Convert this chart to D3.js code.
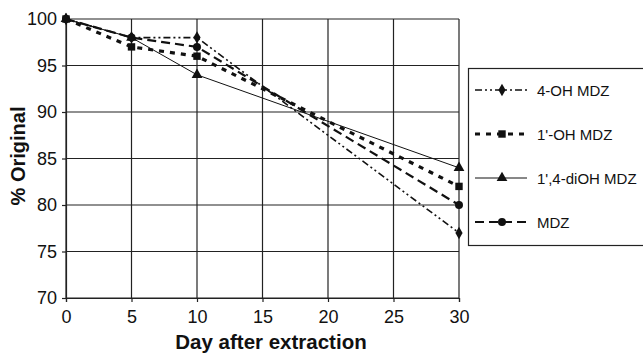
<!DOCTYPE html>
<html><head><meta charset="utf-8">
<script src="https://cdn.jsdelivr.net/npm/d3@7"></script>
<style>body{margin:0;background:#fff}svg{display:block}text{font-family:"Liberation Sans",Arial,sans-serif;fill:#111}</style>
</head><body>
<svg id="c" width="643" height="354"></svg>
<script>
const days = [0, 5, 10, 30];
const seriesNames = ["4-OH MDZ", "1'-OH MDZ", "1',4-diOH MDZ", "MDZ"];
const oh4 = [100, 98, 98, 77];
const oh1 = [100, 97, 96, 82];
const diOH = [100, 98, 94, 84];
const mdz = [100, 98, 97, 80];
const xTicks = [0, 5, 10, 15, 20, 25, 30];
const yTicks = [70, 75, 80, 85, 90, 95, 100];

const series = [
  {name: seriesNames[0], values: oh4, dash: "7,3,2,3,2,3", w: 1.6, sym: d3.symbolDiamond, size: 45},
  {name: seriesNames[1], values: oh1, dash: "5,6", w: 3.2, sym: d3.symbolSquare, size: 55},
  {name: seriesNames[2], values: diOH, dash: null, w: 1, sym: d3.symbolTriangle, size: 50},
  {name: seriesNames[3], values: mdz, dash: "9,5", w: 2.2, sym: d3.symbolCircle, size: 50}
];

const svg = d3.select("#c");
const x = d3.scaleLinear().domain([0, 30]).range([66, 459]);
const y = d3.scaleLinear().domain([70, 100]).range([298, 19]);

// grid
const g = svg.append("g");
g.selectAll(".vg").data(xTicks).join("line")
  .attr("x1", d => x(d)).attr("x2", d => x(d)).attr("y1", y(100)).attr("y2", y(70))
  .attr("stroke", "#222").attr("stroke-width", 1.2);
g.selectAll(".hg").data(yTicks).join("line")
  .attr("x1", x(0)).attr("x2", x(30)).attr("y1", d => y(d)).attr("y2", d => y(d))
  .attr("stroke", "#222").attr("stroke-width", 1.2);

// axes
const xa = svg.append("g").attr("transform", `translate(0,${y(70)})`)
  .call(d3.axisBottom(x).tickValues(xTicks).tickSize(4).tickPadding(8));
const ya = svg.append("g").attr("transform", `translate(${x(0)},0)`)
  .call(d3.axisLeft(y).tickValues(yTicks).tickSize(4).tickPadding(5));
[xa, ya].forEach(a => {
  a.select(".domain").attr("stroke", "#222").attr("stroke-width", 1.2);
  a.selectAll(".tick line").attr("stroke", "#222").attr("stroke-width", 1.2);
  a.selectAll("text").attr("font-size", 18).attr("font-family", "Liberation Sans, Arial, sans-serif").attr("fill", "#111");
});

svg.append("text").attr("x", 271).attr("y", 349).attr("text-anchor", "middle")
  .attr("font-size", 20.5).attr("font-weight", "bold").text("Day after extraction");
svg.append("text").attr("transform", `translate(25,156) rotate(-90)`)
  .attr("text-anchor", "middle").attr("font-size", 20).attr("font-weight", "bold").text("% Original");

// lines
const line = d3.line().x((d, i) => x(days[i])).y(d => y(d));
series.forEach(s => {
  svg.append("path").attr("d", line(s.values)).attr("fill", "none")
    .attr("stroke", "#111").attr("stroke-width", s.w)
    .attr("stroke-dasharray", s.dash);
  svg.selectAll(null).data(s.values).join("path")
    .attr("transform", (d, i) => `translate(${x(days[i])},${y(d)})`)
    .attr("d", d3.symbol().type(s.sym).size(s.size)).attr("fill", "#111");
});

// legend
svg.append("rect").attr("x", 468.5).attr("y", 68.5).attr("width", 180).attr("height", 177)
  .attr("fill", "#fff").attr("stroke", "#222").attr("stroke-width", 1.2);
const legY = [90, 134, 178, 222];
series.forEach((s, i) => {
  svg.append("line").attr("x1", 475).attr("x2", 527).attr("y1", legY[i]).attr("y2", legY[i])
    .attr("stroke", "#111").attr("stroke-width", s.w).attr("stroke-dasharray", s.dash);
  svg.append("path").attr("transform", `translate(502,${legY[i]})`)
    .attr("d", d3.symbol().type(s.sym).size(s.size)).attr("fill", "#111");
  svg.append("text").attr("x", 537).attr("y", legY[i] + 5.5).attr("font-size", 15).text(s.name);
});
</script>
</body></html>
